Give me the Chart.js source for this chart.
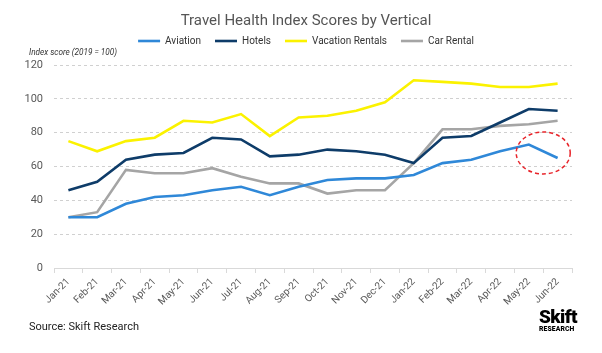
<!DOCTYPE html>
<html>
<head>
<meta charset="utf-8">
<script src="https://cdn.jsdelivr.net/npm/chart.js@4"></script>
<style>
  html, body { margin: 0; padding: 0; background: #fff; }
  #wrap { position: relative; width: 602px; height: 353px; }
  #source { position: absolute; left: 29px; top: 320px; font: 11px Roboto, sans-serif; color: #222; }
  #logo { position: absolute; left: 539px; top: 307px; font-family: Roboto, sans-serif; color: #000; }
  #logo .s { font-size: 19px; font-weight: 900; letter-spacing: -0.6px; line-height: 19px; }
  #logo .r { font-size: 6.8px; font-weight: 900; line-height: 7px; letter-spacing: 0.1px; }
</style>
</head>
<body>
<div id="wrap">
  <canvas id="grafica" width="602" height="353"></canvas>
  <div id="source">Source: Skift Research</div>
  <div id="logo"><div class="s">Skift</div><div class="r">RESEARCH</div></div>
</div>
<script>
const months = ["Jan-21","Feb-21","Mar-21","Apr-21","May-21","Jun-21","Jul-21","Aug-21","Sep-21","Oct-21","Nov-21","Dec-21",
                "Jan-22","Feb-22","Mar-22","Apr-22","May-22","Jun-22"]
const aviation = [30, 30, 38, 42, 43, 46, 48, 43, 48, 52, 53, 53, 55, 62, 64, 69, 73, 65]
const hotels = [46, 51, 64, 67, 68, 77, 76, 66, 67, 70, 69, 67, 62, 77, 78, 86, 94, 93]
const vacationRentals = [75, 69, 75, 77, 87, 86, 91, 78, 89, 90, 93, 98, 111, 110, 109, 107, 107, 109]
const carRental = [30, 33, 58, 56, 56, 59, 54, 50, 50, 44, 46, 46, 62, 82, 82, 84, 85, 87]
const yTicks = [0, 20, 40, 60, 80, 100, 120]

const grey = '#595959'

// espacio extra bajo la leyenda para el texto del eje
const legendSpace = {
    id: 'legendSpace',
    beforeInit(chart) {
        const fit = chart.legend.fit
        chart.legend.fit = function () {
            fit.bind(chart.legend)()
            this.height += 9
        }
    }
}

const extras = {
    id: 'extras',
    afterDraw(chart) {
        const ctx = chart.ctx
        const x = chart.scales.x
        const y = chart.scales.y
        ctx.save()
        ctx.font = 'italic 8.2px Roboto, sans-serif'
        ctx.fillStyle = '#333'
        ctx.textBaseline = 'middle'
        ctx.fillText('Index score (2019 = 100)', 29, 53)

        // etiquetas del eje y (a mano para que no se recorten)
        ctx.font = '11px Roboto, sans-serif'
        ctx.fillStyle = grey
        ctx.textAlign = 'right'
        yTicks.forEach(v => ctx.fillText(String(v), 43, y.getPixelForValue(v)))

        // circulo rojo punteado
        const cx = (x.getPixelForValue(16) + x.getPixelForValue(17)) / 2
        const cy = y.getPixelForValue(68)
        ctx.beginPath()
        ctx.setLineDash([4, 3])
        ctx.strokeStyle = '#e8242a'
        ctx.lineWidth = 1.5
        ctx.ellipse(cx, cy, 27, 21, 0, 0, Math.PI * 2)
        ctx.stroke()
        ctx.restore()
    }
}

function serie(label, data, color) {
    return {
        label: label,
        data: data,
        borderColor: color,
        backgroundColor: color,
        borderWidth: 2.6,
        pointRadius: 0,
        fill: false,
        tension: 0
    }
}

const graph = document.querySelector("#grafica")

new Chart(graph, {
    type: 'line',
    data: {
        labels: months,
        datasets: [
            serie('Aviation', aviation, '#2f88d8'),
            serie('Hotels', hotels, '#0e3c69'),
            serie('Vacation Rentals', vacationRentals, '#fbf200'),
            serie('Car Rental', carRental, '#a5a5a5')
        ]
    },
    options: {
        responsive: false,
        animation: false,
        layout: { padding: { left: 40, right: 30, top: 0, bottom: 0 } },
        plugins: {
            title: {
                display: true,
                text: 'Travel Health Index Scores by Vertical',
                color: '#555',
                font: { family: 'Roboto', size: 15, weight: 'normal' },
                padding: { top: 12, bottom: -8 }
            },
            legend: {
                display: true,
                labels: {
                    usePointStyle: true,
                    pointStyle: 'line',
                    pointStyleWidth: 22,
                    boxHeight: 3,
                    color: '#333',
                    font: { family: 'Roboto', size: 10 },
                    padding: 14
                }
            },
            tooltip: { enabled: false }
        },
        scales: {
            x: {
                offset: true,
                grid: { display: true, drawOnChartArea: false, drawTicks: true, tickLength: 5, color: '#d9d9d9', offset: true },
                border: { color: '#d9d9d9' },
                ticks: { color: grey, font: { family: 'Roboto', size: 10 }, minRotation: 45, maxRotation: 45, autoSkip: false },
                afterFit(scale) { scale.height = 85 }
            },
            y: {
                min: 0,
                max: 120,
                afterBuildTicks(scale) { scale.ticks = yTicks.map(v => ({ value: v })) },
                grid: { color: '#d0d0d0', drawTicks: false },
                border: { display: false, dash: [3, 3] },
                ticks: { display: false },
                afterFit(scale) { scale.width = 14 }
            }
        }
    },
    plugins: [legendSpace, extras]
})
</script>
</body>
</html>
